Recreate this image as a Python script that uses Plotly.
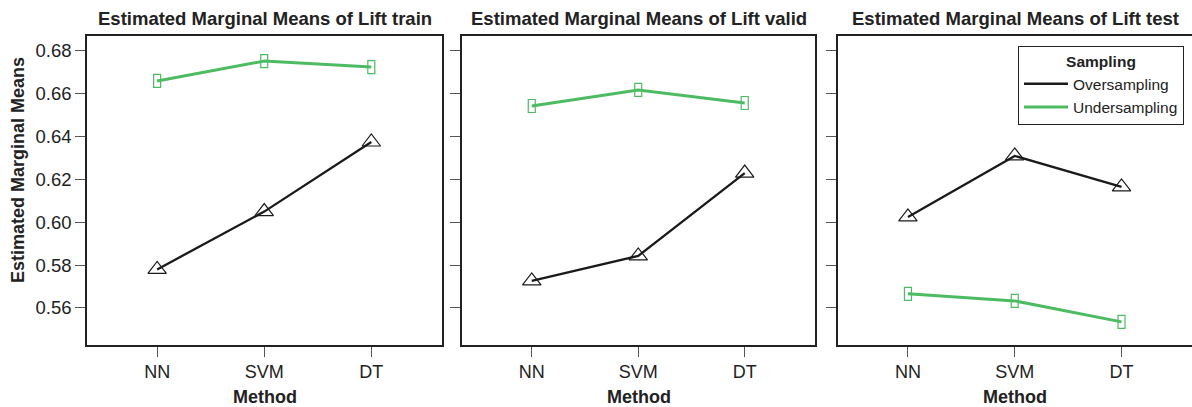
import plotly.graph_objects as go

methods = ["NN", "SVM", "DT"]
panels = ["Lift train", "Lift valid", "Lift test"]
over = {
    "Lift train": [0.578, 0.605, 0.6375],
    "Lift valid": [0.5726, 0.5843, 0.623],
    "Lift test": [0.6025, 0.631, 0.6165],
}
under = {
    "Lift train": [0.666, 0.6753, 0.6725],
    "Lift valid": [0.6543, 0.6618, 0.6557],
    "Lift test": [0.5666, 0.5633, 0.5535],
}
y_ticks = [0.56, 0.58, 0.60, 0.62, 0.64, 0.66, 0.68]
y_tick_labels = ["0.56", "0.58", "0.60", "0.62", "0.64", "0.66", "0.68"]

BLACK = "#1a1a1a"
GREEN = "#4dbb62"
TXT = "#222"
FONT = "Liberation Sans, Arial, sans-serif"

W, H = 1192, 407
ML, MR, MT, MB = 87, 0, 36, 62
pw = W - ML - MR
ph = H - MT - MB
domains = [
    [0.0, (442 - ML) / pw],
    [(462 - ML) / pw, (815 - ML) / pw],
    [(838 - ML) / pw, 1.0],
]

fig = go.Figure()
shapes = []
for i, p in enumerate(panels):
    xa = "x" if i == 0 else f"x{i+1}"
    ya = "y" if i == 0 else f"y{i+1}"
    fig.add_trace(go.Scatter(x=methods, y=over[p], mode="lines", xaxis=xa, yaxis=ya,
                             line=dict(color=BLACK, width=2.3), name="Oversampling",
                             showlegend=(i == 0), legendrank=1))
    fig.add_trace(go.Scatter(x=methods, y=under[p], mode="lines", xaxis=xa, yaxis=ya,
                             line=dict(color=GREEN, width=3), name="Undersampling",
                             showlegend=(i == 0), legendrank=2))
    fig.add_trace(go.Scatter(x=methods, y=over[p], mode="markers", xaxis=xa, yaxis=ya,
                             marker=dict(symbol="triangle-up-open", size=16,
                                         color=BLACK, line=dict(width=1.2, color=BLACK)),
                             showlegend=False, hoverinfo="skip"))
    # narrow open rectangles for the undersampling points, anchored at the data values
    for j, m in enumerate(methods):
        shapes.append(dict(type="rect", xref=xa, yref=ya,
                           xsizemode="pixel", ysizemode="pixel",
                           xanchor=j, yanchor=under[p][j],
                           x0=-3.5, x1=3.5, y0=-6.5, y1=6.5,
                           line=dict(color=GREEN, width=1.2), fillcolor="rgba(0,0,0,0)",
                           layer="above"))

layout = dict(
    width=W, height=H,
    margin=dict(l=ML, r=MR, t=MT, b=MB, autoexpand=False),
    paper_bgcolor="white", plot_bgcolor="white",
    font=dict(family=FONT, size=18, color=TXT),
    showlegend=True,
    legend=dict(
        x=(1018 - ML) / pw, y=(H - MB - 46) / ph, xanchor="left", yanchor="top",
        bordercolor=TXT, borderwidth=1, bgcolor="white",
        font=dict(family=FONT, size=15.5, color=TXT),
        title=dict(text="<b>Sampling</b>", side="top center", font=dict(size=15.5)),
        tracegroupgap=0, itemwidth=44,
    ),
    shapes=shapes,
)
for i in range(3):
    sx = "" if i == 0 else str(i + 1)
    layout[f"xaxis{sx}"] = dict(
        domain=domains[i], anchor=f"y{sx}", type="category",
        categoryorder="array", categoryarray=methods, automargin=False,
        range=[-0.655, 2.66], showline=True, mirror=True, linecolor=TXT, linewidth=1.5,
        ticks="outside", ticklen=10, tickcolor="#555", tickwidth=1,
        showgrid=False, zeroline=False, tickfont=dict(size=18, color=TXT),
    )
    layout[f"yaxis{sx}"] = dict(
        domain=[0, 1], anchor=f"x{sx}", automargin=False,
        range=[0.5427, 0.687], tickvals=y_ticks, ticktext=y_tick_labels,
        showticklabels=(i == 0),
        showline=True, mirror=(i < 2), linecolor=TXT, linewidth=1.5,
        ticks="outside", ticklen=10, tickcolor="#555", tickwidth=1,
        showgrid=False, zeroline=False, tickfont=dict(size=18.5, color=TXT),
    )

annotations = []
for i, p in enumerate(panels):
    cx = (domains[i][0] + domains[i][1]) / 2
    annotations.append(dict(text=f"<b>Estimated Marginal Means of {p}</b>",
                            x=cx, y=(H - MB - 18) / ph, xref="paper", yref="paper",
                            xanchor="center", yanchor="middle", showarrow=False,
                            font=dict(family=FONT, size=18.5, color=TXT)))
    annotations.append(dict(text="<b>Method</b>",
                            x=cx, y=(H - MB - 397) / ph, xref="paper", yref="paper",
                            xanchor="center", yanchor="middle", showarrow=False,
                            font=dict(family=FONT, size=18, color=TXT)))
annotations.append(dict(text="<b>Estimated Marginal Means</b>", textangle=-90,
                        x=(18 - ML) / pw, y=(H - MB - 170) / ph, xref="paper", yref="paper",
                        xanchor="center", yanchor="middle", showarrow=False,
                        font=dict(family=FONT, size=18, color=TXT)))
layout["annotations"] = annotations

fig.update_layout(**layout)
fig.write_html("out.html", config={"displayModeBar": False},
               post_script="document.body.style.margin='0';document.body.style.overflow='hidden';")
